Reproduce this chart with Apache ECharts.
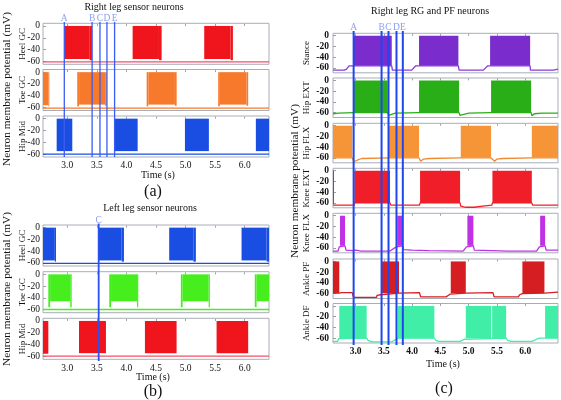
<!DOCTYPE html>
<html><head><meta charset="utf-8">
<script src="https://cdn.jsdelivr.net/npm/echarts@6/dist/echarts.min.js"></script>
<style>html,body{margin:0;padding:0;background:#fff}#c{width:561px;height:400px}</style>
</head><body><div id="c"></div>
<script>
// ---------- tick labels ----------
const xTicks = [3.0, 3.5, 4.0, 4.5, 5.0, 5.5, 6.0];
const yTicks = [0, -20, -40, -60];

// ---------- marker lines ----------
const markerLettersA = ['A', 'B', 'C', 'D', 'E'];
const markerTimesA = [2.95, 3.42, 3.553, 3.671, 3.80];
const markerLettersB = ['C'];
const markerTimesB = [3.531];
const markerLettersC = ['A', 'B', 'C', 'D', 'E'];
const markerTimesC = [2.965, 3.459, 3.582, 3.723, 3.835];

// ---------- panel (a): right leg sensor neurons ----------
// bursts: [start s, end s, lower edge mV] ; traces: [t s, mV]
const aHeelBursts = [[2.95, 3.38, -56], [3.38, 3.42, -58], [4.105, 4.55, -56], [4.55, 4.595, -58], [5.315, 5.76, -56], [5.76, 5.80, -58]];
const aHeelTrace = [[2.59, -61], [6.41, -61]];
const aToeBursts = [[2.59, 2.68, -56], [2.68, 2.696, -58], [3.169, 3.20, -58], [3.20, 3.64, -55], [3.64, 3.666, -57], [4.342, 4.37, -58], [4.37, 4.82, -55], [4.82, 4.849, -57], [5.551, 5.58, -58], [5.58, 6.03, -55], [6.03, 6.058, -57]];
const aToeTrace = [[2.59, -61], [6.41, -61]];
const aHipBursts = [[2.821, 3.085, -55], [3.806, 4.19, -55], [4.989, 5.394, -55], [6.188, 6.41, -55]];
const aHipTrace = [[2.59, -60], [6.41, -60]];

// ---------- panel (b): left leg sensor neurons ----------
const bHeelBursts = [[2.59, 2.79, -56], [2.79, 2.81, -58], [3.531, 3.92, -56], [3.92, 3.958, -58], [4.723, 5.13, -56], [5.13, 5.174, -58], [5.946, 6.37, -56], [6.37, 6.41, -58]];
const bHeelTrace = [[2.59, -61], [6.41, -61]];
const bToeBursts = [[2.68, 2.71, -56], [2.71, 3.05, -46], [3.05, 3.075, -56], [3.71, 3.74, -56], [3.74, 4.18, -46], [4.18, 4.20, -56], [4.92, 4.95, -56], [4.95, 5.39, -46], [5.39, 5.41, -56], [6.17, 6.20, -56], [6.20, 6.41, -46]];
const bToeTrace = [[2.59, -60], [6.41, -60]];
const bHipBursts = [[2.59, 2.68, -56], [3.198, 3.654, -55], [4.313, 4.848, -55], [5.524, 6.058, -55]];
const bHipTrace = [[2.59, -60], [6.41, -60]];

// ---------- panel (c): right leg RG and PF neurons ----------
const cStanceBursts = [[2.959, 3.639, -56], [4.122, 4.818, -56], [5.379, 6.087, -56]];
const cStanceTrace = [[2.6, -64], [2.8, -64], [2.84, -62], [2.883, -56], [3.639, -56], [3.65, -64], [3.993, -64], [4.02, -62], [4.064, -56], [4.818, -56], [4.83, -64], [5.26, -64], [5.29, -62], [5.338, -56], [6.087, -56], [6.093, -64], [6.50, -64], [6.53, -61], [6.58, -62]];
const cHipExtBursts = [[2.966, 3.568, -59], [4.122, 4.83, -59], [5.396, 6.104, -59]];
const cHipExtTrace = [[2.6, -62], [2.7, -61], [2.966, -60], [3.57, -60], [3.585, -65], [3.62, -62], [3.7, -61], [4.122, -60], [4.83, -60], [4.845, -65], [4.88, -62], [5.0, -61], [5.396, -60], [6.105, -60], [6.12, -66], [6.16, -62], [6.3, -61], [6.58, -61]];
const cHipFlxBursts = [[2.6, 2.942, -59], [3.591, 4.122, -59], [4.86, 5.396, -59], [6.117, 6.58, -59]];
const cHipFlxTrace = [[2.6, -60], [2.942, -60], [2.97, -67], [3.05, -63], [3.11, -61], [3.591, -60], [4.122, -60], [4.15, -66], [4.2, -62], [4.3, -61], [4.86, -60], [5.396, -60], [5.46, -66], [5.5, -62], [5.6, -61], [6.117, -60], [6.58, -60]];
const cKneeExtBursts = [[2.6, 2.612, -62], [2.977, 3.609, -60], [4.14, 4.848, -60], [5.42, 6.117, -60]];
const cKneeExtTrace = [[2.6, -64], [2.977, -64], [2.98, -60], [3.609, -60], [3.62, -64], [4.13, -64], [4.14, -60], [4.848, -60], [4.86, -66], [4.95, -68], [5.1, -68], [5.25, -66], [5.41, -64], [5.42, -60], [6.117, -60], [6.13, -64], [6.58, -64]];
const cKneeFlxBursts = [[2.724, 2.812, -56], [3.738, 3.834, -56], [4.977, 5.083, -56], [6.264, 6.352, -56]];
const cKneeFlxTrace = [[2.6, -66], [2.69, -66], [2.71, -58], [2.724, -56], [2.812, -56], [2.83, -64], [2.95, -65], [3.0, -64], [3.1, -66], [3.6, -66], [3.72, -58], [3.738, -56], [3.834, -56], [3.85, -63], [4.0, -64], [4.3, -65], [4.9, -66], [4.96, -58], [4.977, -56], [5.083, -56], [5.1, -64], [5.4, -65], [5.7, -66], [6.2, -66], [6.25, -58], [6.264, -56], [6.352, -56], [6.37, -64], [6.58, -64]];
const cAnklePfBursts = [[2.6, 2.711, -59], [3.462, 3.768, -59], [4.683, 4.949, -59], [5.95, 6.34, -59]];
const cAnklePfTrace = [[2.6, -59], [2.711, -59], [2.75, -58], [2.94, -58], [2.96, -66], [3.0, -67], [3.37, -67], [3.38, -63], [3.44, -62], [3.462, -59], [3.768, -59], [3.8, -58], [4.13, -58], [4.15, -66], [4.6, -66], [4.67, -61], [4.683, -59], [4.949, -59], [4.96, -58], [5.43, -58], [5.45, -66], [5.88, -66], [5.9, -62], [5.95, -60], [6.34, -59], [6.36, -58], [6.58, -57]];
const cAnkleDfBursts = [[2.711, 3.196, -60], [3.745, 4.393, -60], [4.949, 5.40, -60], [5.415, 5.662, -60], [6.352, 6.58, -60]];
const cAnkleDfTrace = [[2.6, -66], [2.68, -66], [2.70, -61], [2.711, -60], [3.196, -60], [3.22, -64], [3.285, -67], [3.64, -67], [3.70, -63], [3.745, -60], [4.393, -60], [4.42, -64], [4.47, -66], [4.85, -66], [4.92, -62], [4.949, -60], [5.662, -60], [5.69, -64], [5.75, -66], [6.12, -66], [6.2, -62], [6.26, -60], [6.58, -60]];

// ---------- build ----------
const FONT = 'Liberation Serif';
const grids = [], xAxes = [], yAxes = [], series = [], graphics = [];

function burstSeries(idx, data, color) {
  return {
    type: 'custom', xAxisIndex: idx, yAxisIndex: idx, data: data, z: 2, silent: true,
    encode: { x: [0, 1], y: 2 },
    renderItem: function (params, api) {
      const p0 = api.coord([api.value(0), 0]);
      const p1 = api.coord([api.value(1), api.value(2)]);
      return { type: 'rect', shape: { x: p0[0], y: p0[1], width: Math.max(p1[0] - p0[0], 1), height: p1[1] - p0[1] }, style: { fill: color } };
    }
  };
}

function addPanel(p) {
  p.rows.forEach(function (r, i) {
    const idx = grids.length;
    const top = p.tops[i];
    const isBottom = i === p.rows.length - 1;
    grids.push({ left: p.left, top: top, width: p.width, height: p.height, show: true, borderColor: '#a9adb8', borderWidth: 1, backgroundColor: '#fff' });
    xAxes.push({
      type: 'value', gridIndex: idx, min: p.xmin, max: p.xmax,
      axisLine: { show: false }, splitLine: { show: false },
      axisTick: { show: true, inside: true, length: 2, customValues: xTicks, lineStyle: { color: '#9a9ea8' } },
      axisLabel: { show: isBottom, hideOverlap: false, customValues: xTicks, formatter: function (v) { return v.toFixed(1); }, fontFamily: FONT, fontSize: 9.5, fontWeight: p.bold ? 'bold' : 'normal', color: '#111', margin: p.xMargin }
    });
    yAxes.push({
      type: 'value', gridIndex: idx, min: p.ymin, max: p.ymax,
      axisLine: { show: false }, splitLine: { show: false },
      axisTick: { show: true, inside: true, length: 3, customValues: yTicks, lineStyle: { color: '#9a9ea8' } },
      axisLabel: { hideOverlap: false, lineHeight: 9, customValues: yTicks, fontFamily: FONT, fontSize: 9.5, fontWeight: p.bold ? 'bold' : 'normal', color: '#111', margin: p.yMargin }
    });
    series.push(burstSeries(idx, r.bursts, r.fill));
    series.push({ type: 'line', xAxisIndex: idx, yAxisIndex: idx, data: r.trace, showSymbol: false, silent: true, z: 3, lineStyle: { color: r.line, width: 1.3 } });
    graphics.push({ type: 'text', x: p.subX, y: top + p.height / 2, rotation: Math.PI / 2, style: { text: r.name, font: '9px "' + FONT + '"', fill: '#111', align: 'center', verticalAlign: 'middle' } });
  });
  // marker overlay
  const idx = grids.length;
  grids.push({ left: p.left, top: p.lineTop, width: p.width, height: p.lineBottom - p.lineTop, show: false });
  xAxes.push({ type: 'value', gridIndex: idx, min: p.xmin, max: p.xmax, show: false });
  yAxes.push({ type: 'value', gridIndex: idx, min: 0, max: 1, show: false });
  p.markers.forEach(function (t) {
    series.push({ type: 'line', xAxisIndex: idx, yAxisIndex: idx, data: [[t, 0], [t, 1]], showSymbol: false, silent: true, z: 10, lineStyle: { color: p.lineColor, width: p.lineWidth } });
  });
  series.push({
    type: 'scatter', xAxisIndex: idx, yAxisIndex: idx, z: 11, silent: true, symbolSize: 1, clip: false,
    itemStyle: { color: 'rgba(0,0,0,0)' },
    data: p.markers.map(function (t, i) { return { value: [t, 1], name: p.letters[i] }; }),
    label: { show: true, position: 'top', distance: -2, formatter: '{b}', color: '#6f87ee', fontFamily: FONT, fontSize: 9.5 }
  });
  // texts
  graphics.push({ type: 'text', x: p.titleX, y: p.titleY, style: { text: p.title, font: '10px "' + FONT + '"', fill: '#111', align: 'center', verticalAlign: 'middle' } });
  graphics.push({ type: 'text', x: p.timeX, y: p.timeY, style: { text: 'Time (s)', font: '10px "' + FONT + '"', fill: '#111', align: 'center', verticalAlign: 'middle' } });
  graphics.push({ type: 'text', x: p.capX, y: p.capY, style: { text: p.caption, font: '16px "' + FONT + '"', fill: '#111', align: 'center', verticalAlign: 'middle' } });
  graphics.push({ type: 'text', x: p.yTitleX, y: p.yTitleY, rotation: Math.PI / 2, style: { text: 'Neuron membrane potential (mV)', font: '11.3px "' + FONT + '"', fill: '#111', align: 'center', verticalAlign: 'middle' } });
}

addPanel({
  left: 43, width: 226, tops: [23.3, 69.5, 116], height: 41, xmin: 2.59, xmax: 6.41, ymin: -65, ymax: 4.5,
  bold: false, xMargin: 3, yMargin: 3, subX: 23,
  rows: [
    { name: 'Heel GC', bursts: aHeelBursts, trace: aHeelTrace, fill: '#f0141c', line: '#f2506a' },
    { name: 'Toe GC', bursts: aToeBursts, trace: aToeTrace, fill: '#f77a2c', line: '#f77a2c' },
    { name: 'Hip Mid', bursts: aHipBursts, trace: aHipTrace, fill: '#1a4ee2', line: '#1a4ee2' }
  ],
  markers: markerTimesA, letters: markerLettersA, lineTop: 22, lineBottom: 157, lineColor: '#3b5cf0', lineWidth: 1.3,
  title: 'Right leg sensor neurons', titleX: 134, titleY: 7, timeX: 158, timeY: 175, caption: '(a)', capX: 153, capY: 192,
  yTitleX: 7, yTitleY: 89
});
addPanel({
  left: 43, width: 226, tops: [225, 271.7, 318.3], height: 41, xmin: 2.59, xmax: 6.41, ymin: -65.5, ymax: 4.5,
  bold: false, xMargin: 4, yMargin: 3, subX: 23,
  rows: [
    { name: 'Heel GC', bursts: bHeelBursts, trace: bHeelTrace, fill: '#1a4ee2', line: '#1a4ee2' },
    { name: 'Toe GC', bursts: bToeBursts, trace: bToeTrace, fill: '#46ee1e', line: '#46ee1e' },
    { name: 'Hip Mid', bursts: bHipBursts, trace: bHipTrace, fill: '#f0141c', line: '#f2506a' }
  ],
  markers: markerTimesB, letters: markerLettersB, lineTop: 223.5, lineBottom: 361, lineColor: '#2a50f0', lineWidth: 1.8,
  title: 'Left leg sensor neurons', titleX: 150, titleY: 208, timeX: 153, timeY: 377, caption: '(b)', capX: 153, capY: 392,
  yTitleX: 7, yTitleY: 289
});
addPanel({
  left: 333, width: 225, tops: [33.3, 78, 123.3, 168.3, 213.3, 259, 303.5], height: 39.5, xmin: 2.6, xmax: 6.58, ymin: -69, ymax: 4.5,
  bold: true, xMargin: 4, yMargin: 4, subX: 306.5,
  rows: [
    { name: 'Stance', bursts: cStanceBursts, trace: cStanceTrace, fill: '#7a2ccc', line: '#8a3ad8' },
    { name: 'Hip EXT', bursts: cHipExtBursts, trace: cHipExtTrace, fill: '#2aae18', line: '#2aae18' },
    { name: 'Hip FLX', bursts: cHipFlxBursts, trace: cHipFlxTrace, fill: '#f59538', line: '#f08a30' },
    { name: 'Knee EXT', bursts: cKneeExtBursts, trace: cKneeExtTrace, fill: '#f01e28', line: '#f01e28' },
    { name: 'Knee FLX', bursts: cKneeFlxBursts, trace: cKneeFlxTrace, fill: '#c030e4', line: '#c030e4' },
    { name: 'Ankle PF', bursts: cAnklePfBursts, trace: cAnklePfTrace, fill: '#d41e22', line: '#d41e22' },
    { name: 'Ankle DF', bursts: cAnkleDfBursts, trace: cAnkleDfTrace, fill: '#40eea8', line: '#40eea8' }
  ],
  markers: markerTimesC, letters: markerLettersC, lineTop: 31, lineBottom: 345, lineColor: '#2046f0', lineWidth: 2,
  title: 'Right leg RG and PF neurons', titleX: 430, titleY: 11, timeX: 443, timeY: 364, caption: '(c)', capX: 444, capY: 389,
  yTitleX: 295, yTitleY: 181
});

const chart = echarts.init(document.getElementById('c'), null, { renderer: 'canvas' });
chart.setOption({
  animation: false,
  backgroundColor: '#fff',
  grid: grids, xAxis: xAxes, yAxis: yAxes, series: series, graphic: graphics
});
</script></body></html>
